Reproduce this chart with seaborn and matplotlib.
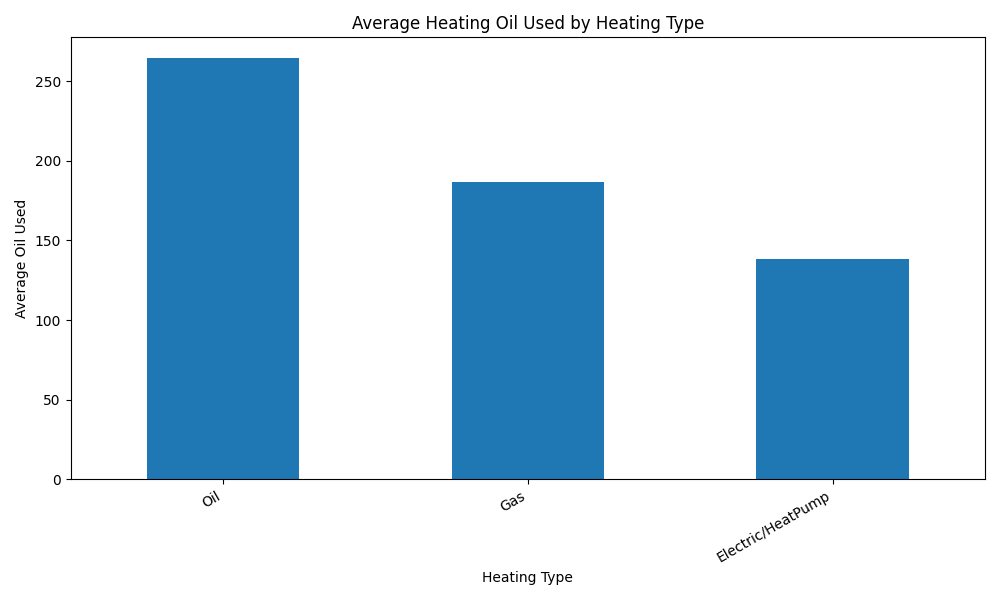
# Recreate: Average Heating Oil Used by Heating Type
import pandas as pd
import matplotlib
matplotlib.use("Agg")
import matplotlib.pyplot as plt
import seaborn as sns

# Data
heating_types = ["Oil", "Gas", "Electric/HeatPump"]
avg_oil_used = [264.3, 186.8, 138.2]

df = pd.DataFrame({"Heating Type": heating_types, "Average Oil Used": avg_oil_used})

fig, ax = plt.subplots(figsize=(10, 6), dpi=100)
sns.barplot(data=df, x="Heating Type", y="Average Oil Used", color="#1f77b4",
            saturation=1, width=0.5, ax=ax)

ax.set_title("Average Heating Oil Used by Heating Type")
ax.set_xlabel("Heating Type")
ax.set_ylabel("Average Oil Used")
ax.set_xlim(-0.5, len(heating_types) - 0.5)
plt.setp(ax.get_xticklabels(), rotation=30, ha="right")

plt.tight_layout()
plt.savefig("out.png")
